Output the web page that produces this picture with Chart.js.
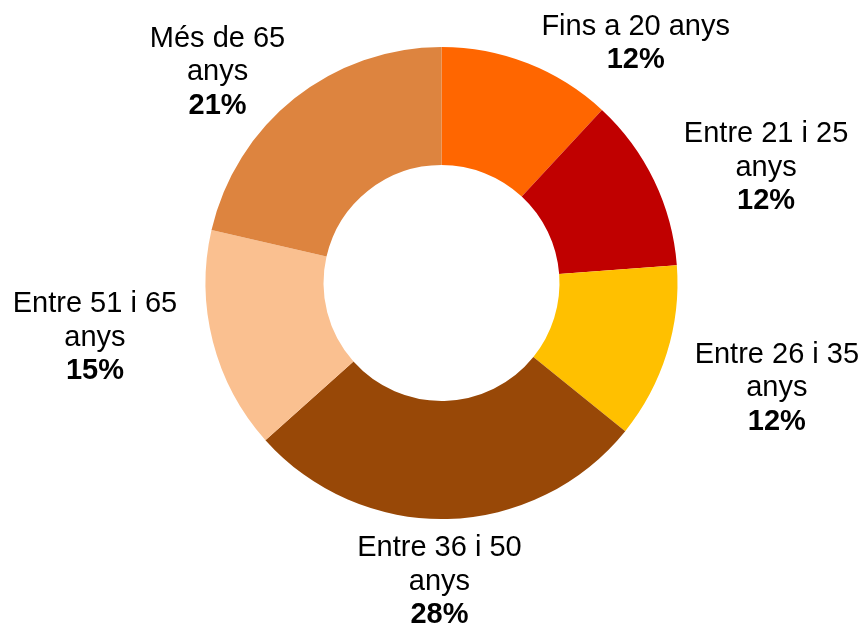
<!DOCTYPE html>
<html lang="ca">
<head>
    <meta charset="UTF-8">
    <title>Distribució per edats</title>
    <script src="https://cdn.jsdelivr.net/npm/chart.js"></script>
    <style>
        html, body {
            margin: 0;
            padding: 0;
            background: #ffffff;
        }
        #wrap {
            width: 862px;
            height: 625px;
        }
    </style>
</head>
<body>
    <div id="wrap"><canvas id="edats"></canvas></div>

    <script>
        // Dades
        const categories = ['Fins a 20 anys', 'Entre 21 i 25 anys', 'Entre 26 i 35 anys', 'Entre 36 i 50 anys', 'Entre 51 i 65 anys', 'Més de 65 anys'];
        const labelLines = [
            ['Fins a 20 anys'],
            ['Entre 21 i 25', 'anys'],
            ['Entre 26 i 35', 'anys'],
            ['Entre 36 i 50', 'anys'],
            ['Entre 51 i 65', 'anys'],
            ['Més de 65', 'anys']
        ];
        const percentatges = [11.9, 11.9, 12.0, 27.6, 15.2, 21.4];

        // Estil
        const colors = ['#FF6600', '#C00000', '#FFC000', '#984807', '#FAC090', '#DD843F'];
        // desplaçament de cada etiqueta respecte al punt mig de l'arc exterior
        const labelNudge = [[108, -20], [112, -13], [110, 35], [-8, 63], [-118, -4], [-77, -26]];
        const FONT = '"Liberation Sans", Arial, sans-serif';
        const LINE_H = 33.5;

        // Etiquetes fora de l'anell
        const etiquetes = {
            id: 'etiquetes',
            afterDatasetsDraw(chart) {
                const ctx = chart.ctx;
                const arcs = chart.getDatasetMeta(0).data;
                ctx.save();
                ctx.fillStyle = '#000000';
                ctx.textAlign = 'center';
                ctx.textBaseline = 'middle';
                arcs.forEach((arc, i) => {
                    const p = arc.getProps(['x', 'y', 'startAngle', 'endAngle', 'outerRadius'], true);
                    const mid = (p.startAngle + p.endAngle) / 2;
                    const ax = p.x + Math.cos(mid) * p.outerRadius + labelNudge[i][0];
                    const ay = p.y + Math.sin(mid) * p.outerRadius + labelNudge[i][1];
                    const lines = labelLines[i].concat([Math.round(percentatges[i]) + '%']);
                    const top = ay - (lines.length - 1) * LINE_H / 2;
                    lines.forEach((t, j) => {
                        const bold = j === lines.length - 1;
                        ctx.font = (bold ? 'bold ' : '') + '29px ' + FONT;
                        ctx.fillText(t, ax, top + j * LINE_H);
                    });
                });
                ctx.restore();
            }
        };

        new Chart(document.getElementById('edats'), {
            type: 'doughnut',
            data: {
                labels: categories,
                datasets: [{
                    data: percentatges,
                    backgroundColor: colors,
                    borderWidth: 0
                }]
            },
            options: {
                responsive: true,
                maintainAspectRatio: false,
                animation: false,
                cutout: '50%',
                layout: {
                    padding: { top: 47, bottom: 106, left: 21, right: 0 }
                },
                plugins: {
                    legend: { display: false },
                    tooltip: { enabled: false }
                }
            },
            plugins: [etiquetes]
        });
    </script>
</body>
</html>
